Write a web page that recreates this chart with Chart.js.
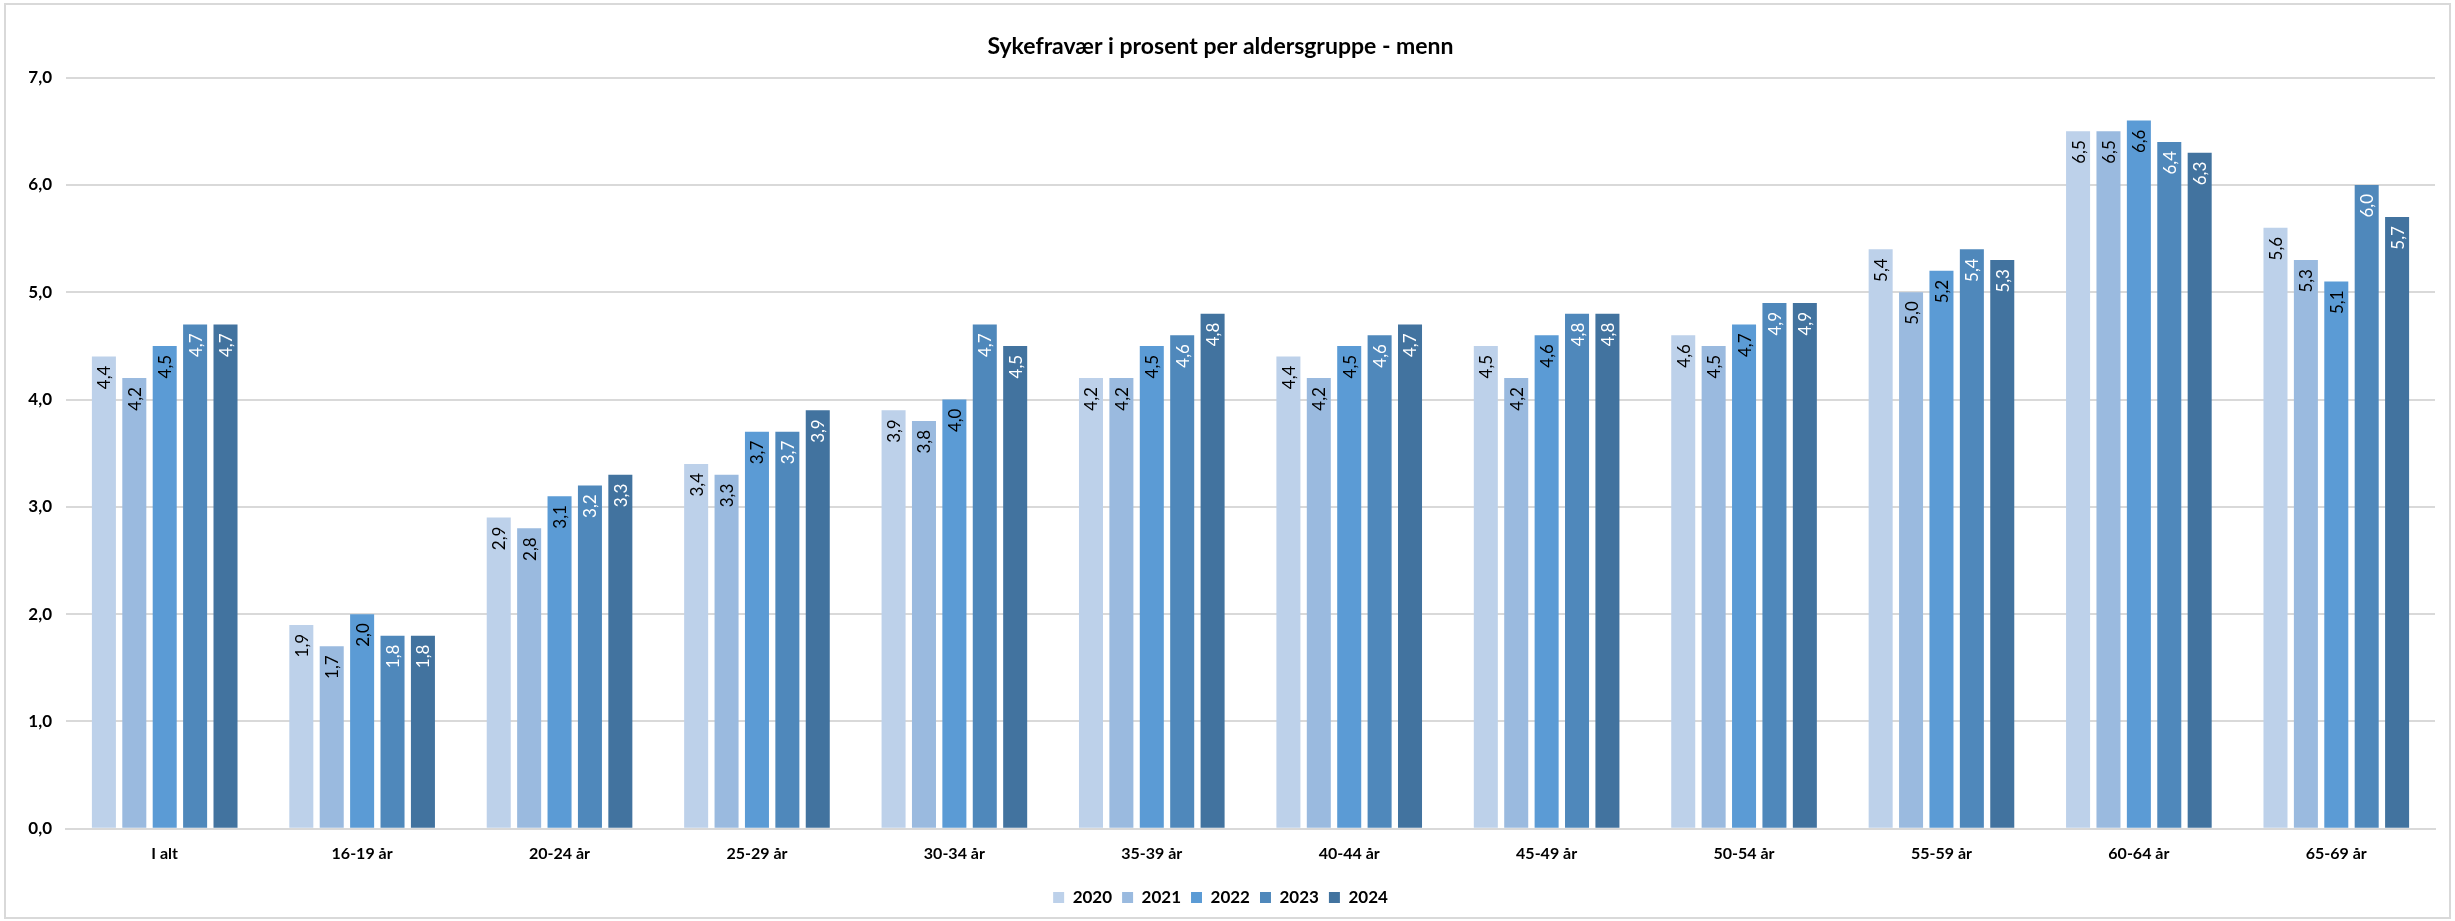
<!DOCTYPE html>
<html>
<head>
<meta charset="utf-8">
<script src="https://cdn.jsdelivr.net/npm/chart.js@4"></script>
<style>
  html, body { margin: 0; padding: 0; background: #fff; }
  #wrap {
    position: absolute; left: 4px; top: 3px;
    width: 2447px; height: 916px; box-sizing: border-box;
    border: 2px solid #d9d9d9; background: #fff;
  }
</style>
</head>
<body>
<div id="wrap"><canvas id="chart"></canvas></div>
<script>
const categories = ['I alt', '16-19 år', '20-24 år', '25-29 år', '30-34 år', '35-39 år',
  '40-44 år', '45-49 år', '50-54 år', '55-59 år', '60-64 år', '65-69 år'];
const years = ['2020', '2021', '2022', '2023', '2024'];

const values2020 = [4.4, 1.9, 2.9, 3.4, 3.9, 4.2, 4.4, 4.5, 4.6, 5.4, 6.5, 5.6];
const values2021 = [4.2, 1.7, 2.8, 3.3, 3.8, 4.2, 4.2, 4.2, 4.5, 5.0, 6.5, 5.3];
const values2022 = [4.5, 2.0, 3.1, 3.7, 4.0, 4.5, 4.5, 4.6, 4.7, 5.2, 6.6, 5.1];
const values2023 = [4.7, 1.8, 3.2, 3.7, 4.7, 4.6, 4.6, 4.8, 4.9, 5.4, 6.4, 6.0];
const values2024 = [4.7, 1.8, 3.3, 3.9, 4.5, 4.8, 4.7, 4.8, 4.9, 5.3, 6.3, 5.7];

const yTicks = [0, 1, 2, 3, 4, 5, 6, 7];

const COLORS = ['#bdd1ea', '#9abadf', '#5b9bd5', '#4f88bb', '#42739f'];
const LABEL_COLORS = ['#000', '#000', '#000', '#fff', '#fff'];
const FONT = 'Lato, "Open Sans", sans-serif';

function fmt(v) {
  return v.toFixed(1).replace('.', ',');
}

// --- Value labels, rotated, inside the top of each bar ---
const barLabels = {
  id: 'barLabels',
  afterDatasetsDraw(chart) {
    const ctx = chart.ctx;
    chart.data.datasets.forEach((ds, i) => {
      const meta = chart.getDatasetMeta(i);
      meta.data.forEach((bar, j) => {
        ctx.save();
        ctx.translate(bar.x, bar.y + 9);
        ctx.rotate(-Math.PI / 2);
        ctx.textAlign = 'right';
        ctx.textBaseline = 'middle';
        ctx.fillStyle = LABEL_COLORS[i];
        ctx.font = '17px ' + FONT;
        ctx.fillText(fmt(ds.data[j]), 0, 1);
        ctx.restore();
      });
    });
  },
};

const seriesValues = [values2020, values2021, values2022, values2023, values2024];

new Chart(document.getElementById('chart'), {
  type: 'bar',
  data: {
    labels: categories,
    datasets: years.map((y, i) => ({
      label: y,
      data: seriesValues[i],
      backgroundColor: COLORS[i],
      borderWidth: 0,
      categoryPercentage: 0.77,
      barPercentage: 0.79,
    })),
  },
  options: {
    responsive: true,
    maintainAspectRatio: false,
    animation: false,
    layout: { padding: { left: 0, right: 14, top: 0, bottom: 1 } },
    plugins: {
      title: {
        display: true,
        text: 'Sykefravær i prosent per aldersgruppe - menn',
        color: '#000',
        font: { family: FONT, size: 23, weight: 'bold' },
        padding: { top: 28, bottom: 17 },
      },
      legend: {
        position: 'bottom',
        labels: {
          boxWidth: 11,
          boxHeight: 11,
          padding: 10,
          color: '#000',
          font: { family: FONT, size: 17, weight: 'bold' },
        },
      },
      tooltip: { enabled: false },
    },
    scales: {
      x: {
        afterFit: (scale) => { scale.height += 9; },
        grid: { display: false },
        border: { color: '#d9d9d9', width: 2 },
        ticks: { color: '#000', font: { family: FONT, size: 16, weight: 'bold' }, padding: 7 },
      },
      y: {
        min: 0,
        max: 7,
        afterBuildTicks: (scale) => { scale.ticks = yTicks.map((v) => ({ value: v })); },
        afterFit: (scale) => { scale.width = 60; },
        grid: { color: '#d9d9d9', lineWidth: 2, drawTicks: false },
        border: { display: false },
        ticks: {
          color: '#000',
          padding: 14,
          font: { family: FONT, size: 17, weight: 'bold' },
          callback: (v) => fmt(v),
        },
      },
    },
  },
  plugins: [barLabels],
});
</script>
</body>
</html>
